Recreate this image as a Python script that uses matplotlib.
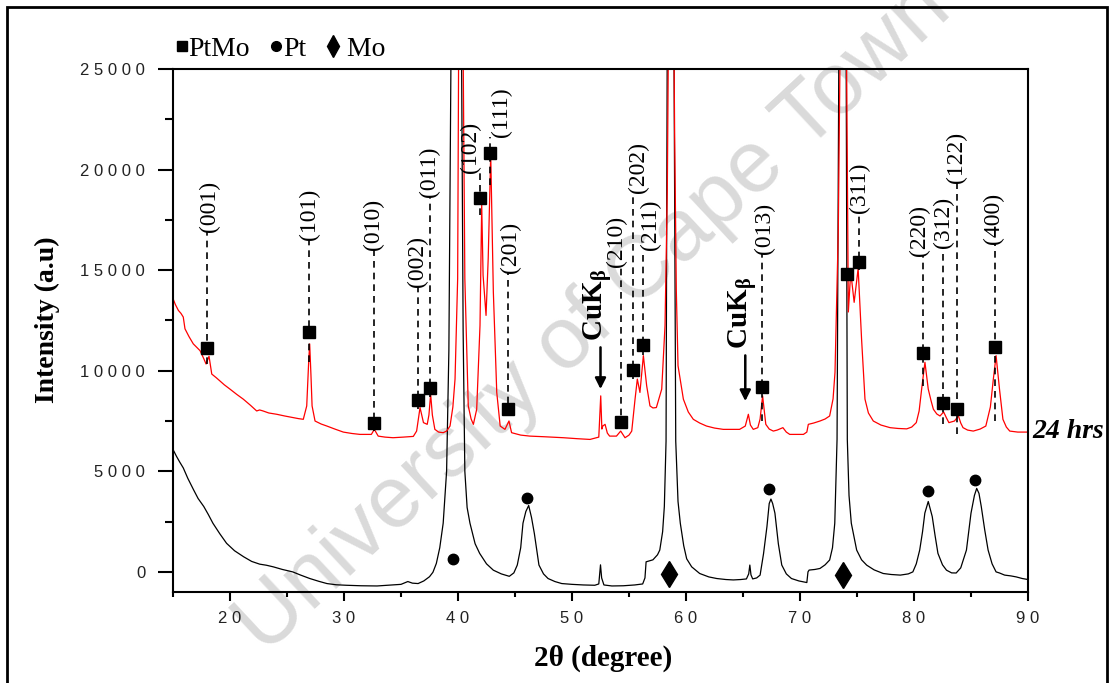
import matplotlib.pyplot as plt
from matplotlib.lines import Line2D
from matplotlib.patches import Rectangle
from matplotlib.ticker import MultipleLocator, FuncFormatter

plt.rcParams['font.family'] = ['Liberation Serif', 'DejaVu Serif']
plt.rcParams['mathtext.fontset'] = 'custom'
plt.rcParams['mathtext.rm'] = 'Liberation Serif'
plt.rcParams['mathtext.bf'] = 'Liberation Serif:bold'
plt.rcParams['mathtext.it'] = 'Liberation Serif:italic'

# bare sample (black trace), 2-theta in degrees and counts
bare_2theta = [15.0, 15.3, 15.6, 15.9, 16.3, 16.8, 17.2, 17.7, 18.1, 18.5, 19.1, 19.7, 20.4,
               21.2, 21.9, 22.6, 23.2, 23.8, 24.6, 25.5, 26.2, 27.0, 27.8, 28.5, 29.3, 30.2,
               31.5, 32.9, 34.3, 35.0, 35.6, 36.0, 36.5, 37.0, 37.5, 37.8, 38.1, 38.4, 38.7,
               39.0, 39.2, 39.4, 39.85, 40.3, 40.45, 40.6, 40.8, 41.05, 41.5, 41.9, 42.5,
               43.1, 43.8, 44.5, 44.9, 45.2, 45.5, 45.7, 45.95, 46.2, 46.45, 46.7, 47.1,
               47.5, 47.9, 48.5, 49.1, 50.0, 51.0, 52.0, 52.35, 52.5, 52.6, 52.8, 53.5,
               54.5, 55.5, 56.2, 56.4, 56.5, 57.1, 57.5, 57.7, 57.95, 58.1, 58.25, 58.35,
               58.65, 58.95, 59.1, 59.3, 59.5, 59.8, 60.06, 60.5, 61.2, 62.0, 62.7, 63.5,
               64.15, 64.8, 65.3, 65.5, 65.6, 65.7, 65.85, 66.2, 66.5, 66.8, 67.1, 67.3,
               67.45, 67.6, 67.8, 68.1, 68.4, 68.8, 69.25, 69.9, 70.6, 70.7, 70.8, 71.3,
               71.75, 72.2, 72.6, 72.85, 73.05, 73.25, 73.4, 73.75, 74.05, 74.15, 74.3,
               74.5, 74.97, 75.4, 75.85, 76.5, 77.3, 78.0, 78.8, 79.5, 79.9, 80.2, 80.5,
               80.75, 80.95, 81.25, 81.6, 81.85, 82.1, 82.5, 82.85, 83.3, 83.7, 84.1, 84.6,
               85.0, 85.3, 85.5, 85.7, 85.9, 86.2, 86.5, 86.85, 87.2, 87.5, 87.95, 88.5,
               88.97, 89.5, 90.0]
bare_counts = [6085, 5750, 5450, 5170, 4650, 4085, 3650, 3250, 2850, 2420, 1900, 1420, 1050,
               750, 520, 385, 330, 250, 120, 0, -160, -330, -470, -580, -640, -665,
               -690, -700, -650, -620, -480, -560, -580, -450, -240, -20, 420, 1200, 2420,
               5000, 11000, 27000, 60000, 27000, 12000, 5000, 3200, 2420, 1400, 920, 400,
               85, -100, -220, -50, 340, 1200, 2420, 3000, 3300, 2700, 1900, 340,
               -100, -330, -480, -580, -620, -650, -665, -600, 350, -300, -650, -700,
               -690, -650, -600, -300, 500, 600, 850, 1085, 2000, 3250, 6500, 25500,
               60000, 25500, 6500, 3500, 2420, 1300, 650, 250, -80, -250, -330, -380,
               -400, -380, -350, -100, 340, -150, -350, -300, -160, 900, 2250, 3400,
               3620, 3400, 2920, 1400, 340, -100, -330, -450, -530, 0, 90, 120,
               170, 350, 590, 1200, 2420, 6585, 25500, 60000, 25500, 6585, 3800,
               2420, 1085, 600, 335, 100, -80, -130, -160, -100, 0, 400, 1085,
               2000, 2920, 3500, 2750, 1800, 920, 350, 85, -50, -55, 200, 1085,
               2920, 3800, 4150, 3900, 3250, 2100, 1085, 400, 0, -55, -160, -200,
               -250, -330, -380]

# after 24 hrs (red trace)
h24_2theta = [15.0, 15.2, 15.47, 15.7, 15.9, 16.05, 16.4, 16.78, 17.1, 17.37, 17.7, 17.9,
              18.05, 18.16, 18.3, 18.4, 18.8, 19.1, 19.5, 20.0, 20.6, 21.17, 21.8, 22.34,
              22.6, 22.9, 23.4, 24.1, 24.8, 25.55, 26.0, 26.43, 26.73, 26.9, 26.99, 27.1,
              27.2, 27.46, 28.0, 28.5, 29.2, 29.94, 30.7, 31.4, 32.4, 32.66, 33.0, 33.6,
              34.3, 35.2, 36.08, 36.37, 36.67, 36.97, 37.3, 37.45, 37.6, 37.75, 37.97,
              38.3, 38.7, 39.0, 39.3, 39.55, 39.74, 39.97, 40.2, 40.6, 40.9, 41.15, 41.35,
              41.64, 41.93, 42.08, 42.2, 42.46, 42.65, 42.87, 43.1, 43.4, 43.7, 44.12,
              44.47, 44.7, 45.5, 46.3, 47.5, 49.24, 50.5, 51.58, 52.35, 52.52, 52.62,
              52.7, 52.9, 53.1, 53.3, 53.9, 54.27, 54.65, 55.0, 55.24, 55.53, 55.73, 55.96,
              56.26, 56.55, 56.84, 57.1, 57.4, 57.87, 58.16, 58.36, 58.7, 59.0, 59.15,
              59.3, 59.77, 60.2, 60.64, 61.2, 61.8, 62.5, 63.27, 64.0, 64.7, 65.2, 65.47,
              65.65, 65.9, 66.3, 66.5, 66.72, 67.0, 67.3, 67.66, 68.0, 68.5, 68.8, 69.1,
              69.7, 70.3, 70.6, 70.73, 71.2, 71.75, 72.2, 72.6, 72.9, 73.07, 73.36, 73.85,
              74.24, 74.45, 74.75, 75.1, 75.4, 75.7, 76.0, 76.43, 77.1, 77.9, 78.6, 79.36,
              79.8, 80.2, 80.45, 80.67, 80.96, 81.25, 81.5, 81.7, 82.0, 82.28, 82.6, 82.85,
              83.06, 83.55, 83.9, 84.1, 84.3, 84.7, 85.2, 85.8, 86.3, 86.7, 86.96, 87.2,
              87.5, 87.8, 88.1, 88.4, 89.1, 89.9]
h24_counts = [13585, 13300, 13000, 12850, 12670, 12085, 11700, 11335, 11150, 11000, 10600, 10335,
              10550, 10720, 10200, 9835, 9650, 9500, 9300, 9085, 8820, 8585, 8280, 8000,
              8050, 8000, 7900, 7835, 7750, 7670, 7620, 7585, 8250, 10420, 11335, 9800,
              8250, 7500, 7350, 7250, 7100, 6950, 6880, 6835, 6835, 7085, 6750, 6700,
              6670, 6700, 6735, 7000, 8170, 7420, 7335, 7800, 8835, 7800, 7085,
              6950, 6920, 7000, 7250, 8200, 9585, 14585, 45000, 14585, 8250, 7600, 7335,
              8085, 12250, 18250, 14750, 12750, 15585, 20750, 13920, 8920, 7250, 7085,
              7500, 6920, 6800, 6750, 6720, 6670, 6620, 6585, 6700, 8750, 7100,
              7250, 7335, 6900, 6750, 6750, 7000, 6670, 6800, 7000, 8585, 9585, 8920,
              10750, 9250, 8250, 8150, 8170, 9085, 12250, 18920, 45000, 22000, 14000,
              10250, 8585, 7950, 7585, 7400, 7250, 7150, 7085, 7085, 7085, 7250, 7835,
              7300, 7085, 7170, 7600, 8750, 7335, 7100, 7000, 7050, 7170, 6950, 6835,
              6835, 6835, 6950, 7335, 7400, 7500, 7600, 7750, 8600, 9920, 17000, 45000,
              12920, 14920, 13400, 15085, 11585, 8585, 7900, 7500, 7300, 7170, 7130, 7110,
              7200, 7420, 8000, 9085, 10420, 9085, 8500, 8085, 7850, 7750, 7950, 7650,
              7420, 7500, 7750, 7400, 7170, 7050, 7000, 7100, 7250, 8200, 9585, 10750,
              9085, 7585, 7200, 7000, 6950, 6950]

# PtMo reflections marked on the 24 hrs trace
ptmo_hkl = ['(001)', '(101)', '(010)', '(002)', '(011)', '(102)', '(111)', '(201)', '(210)',
            '(202)', '(211)', '(013)', '', '(311)', '(220)', '(312)', '(122)', '(400)']
ptmo_2theta = [17.95, 26.93, 32.6, 36.45, 37.5, 41.93, 42.8, 44.36, 54.27,
               55.38, 56.26, 66.64, 74.15, 75.2, 80.76, 82.57, 83.75, 87.1]
ptmo_counts = [11120, 11920, 7420, 8550, 9135, 18585, 20835, 8120, 7450,
               10035, 11285, 9170, 14785, 15415, 10870, 8420, 8085, 11170]

# Pt and Mo reflections marked on the bare trace
pt_2theta = [39.6, 46.08, 67.3, 81.2, 85.35]
pt_counts = [665, 3665, 4120, 4000, 4550]
mo_2theta = [58.54, 73.8]
mo_counts = [-115, -165]

# CuK-beta lines on the 24 hrs trace
cukb_2theta = [52.5, 65.2]

# layout of the hkl labels: where each label starts, where its dashed line ends below, shift
label_base = [16885, 16485, 15985, 14185, 18635, 19835, 21635, 14835, 15135,
              18835, 15985, 15785, 0, 17835, 15685, 16085, 19335, 16285]
line_bottom = [10335, 10430, 7000, 8100, 8700, 17750, 19250, 7800, 7200,
               9600, 10800, 7500, 0, 15000, 9250, 7335, 6835, 7500]
label_dx = [0.25, 0, 0, 0, 0, -0.8, 1.0, 0.25, -0.35,
            0.45, 0.6, 0.2, 0, 0, -0.25, 0, 0, -0.1]
# CuK-beta arrows: tail, head and text start
cukb_tail = [11300, 10900]
cukb_head = [8950, 8350]
cukb_text = [11500, 11100]

fig = plt.figure(figsize=(11.1, 6.83), dpi=100)
ax = fig.add_axes([173 / 1110, 91 / 683, 855 / 1110, 523 / 683])
ax.set_facecolor('none')

fig.text(0.535, 0.535, 'University of Cape Town', rotation=43, fontsize=63,
         family='Liberation Sans', color='#dadada', ha='center', va='center', zorder=-1)

ax.plot(bare_2theta, bare_counts, color='black', lw=0.9, zorder=2)
ax.plot(h24_2theta, h24_counts, color='red', lw=0.9, zorder=2)

for hkl, x, base, bot, dx in zip(ptmo_hkl, ptmo_2theta, label_base, line_bottom, label_dx):
    if not hkl:
        continue
    ax.plot([x, x], [bot, base], color='black', lw=1.2, ls=(0, (4, 3)), zorder=3)
    ax.text(x + dx, base, hkl, rotation=90, ha='center', va='bottom', fontsize=17)

ax.plot(ptmo_2theta, ptmo_counts, 's', color='black', ms=9, zorder=4)
ax.plot(pt_2theta, pt_counts, 'o', color='black', ms=7.5, zorder=4)
ax.plot(mo_2theta, mo_counts, 'd', color='black', ms=13, zorder=4)

for x, tail, head, top in zip(cukb_2theta, cukb_tail, cukb_head, cukb_text):
    ax.annotate('', xy=(x, head), xytext=(x, tail),
                arrowprops=dict(arrowstyle='-|>', color='black', lw=1.8, mutation_scale=16))
    ax.text(x - 0.25, top, 'CuK$_{\\mathbf{\\beta}}$', rotation=90,
            ha='center', va='bottom', fontsize=21, fontweight='bold')

ax.text(90.4, 6985, '24 hrs', ha='left', va='center', fontsize=20,
        fontweight='bold', style='italic', clip_on=False)

ax.set_xlim(15, 90)
ax.set_ylim(-1000, 25000)
ax.xaxis.set_major_locator(MultipleLocator(10))
ax.xaxis.set_minor_locator(MultipleLocator(5))
ax.yaxis.set_major_locator(MultipleLocator(5000))
ax.yaxis.set_minor_locator(MultipleLocator(2500))
spaced = FuncFormatter(lambda v, p: ' '.join(str(int(round(v)))))
ax.xaxis.set_major_formatter(spaced)
ax.yaxis.set_major_formatter(spaced)
ax.tick_params(axis='both', which='both', top=False, right=False, direction='out',
               width=1.5, labelsize=12, labelcolor='#222222', labelfontfamily='Liberation Sans')
ax.tick_params(axis='y', which='major', length=11, pad=9)
ax.tick_params(axis='y', which='minor', length=6)
ax.tick_params(axis='x', which='major', length=6.5, pad=7)
ax.tick_params(axis='x', which='minor', length=3.5)
for s in ax.spines.values():
    s.set_linewidth(1.5)

ax.set_xlabel('2θ (degree)', fontsize=21, fontweight='bold')
ax.set_ylabel('Intensity (a.u)', fontsize=20, fontweight='bold')
ax.xaxis.set_label_coords(0.503, -0.10)
ax.yaxis.set_label_coords(-0.132, 0.52)

handles = [Line2D([], [], ls='', marker='s', color='black', ms=7.5),
           Line2D([], [], ls='', marker='o', color='black', ms=7),
           Line2D([], [], ls='', marker='d', color='black', ms=11)]
ax.legend(handles, ['PtMo', 'Pt', ' Mo'], loc='center left', bbox_to_anchor=(0.002, 1.038),
          ncol=3, frameon=False, handlelength=0.5, handletextpad=0.0, columnspacing=0.7,
          borderpad=0, borderaxespad=0, fontsize=20)

fig.patches.append(Rectangle((7 / 1110, -0.05), 1100 / 1110, 1.05 - 7 / 683,
                             transform=fig.transFigure, fill=False, lw=2, ec='black'))

fig.savefig('out.png', dpi=100)
